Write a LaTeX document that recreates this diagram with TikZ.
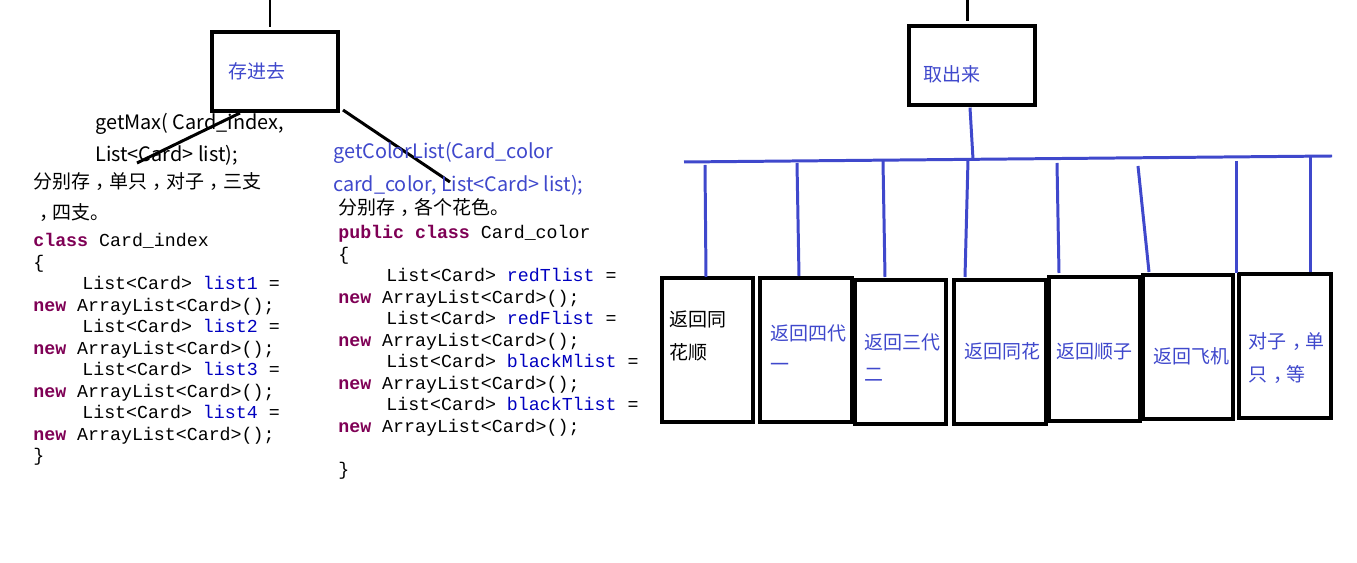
\documentclass[tikz,border=0pt]{standalone}
\usepackage{fontspec}
\newfontfamily\cjk{Noto Sans CJK SC}
\newfontfamily\codefont{Liberation Mono}
\newcommand\zc{\hspace*{0.3em}，\hspace*{-0.3em}}
\definecolor{pblue}{HTML}{3F48CC}
\definecolor{kw}{HTML}{7F0055}
\definecolor{idf}{HTML}{0000C0}
\begin{document}
\begin{tikzpicture}[x=0.02cm,y=-0.02cm,
  box/.style={draw=black,line width=1.8pt,inner sep=0pt},
  txt/.style={anchor=base west,inner sep=0pt,font=\cjk\fontsize{10.8}{13}\selectfont},
  btxt/.style={txt,text=pblue},
  ltxt/.style={anchor=base west,inner sep=0pt,font=\cjk\fontsize{11.3}{13}\selectfont},
  code/.style={anchor=base west,inner sep=0pt,font=\codefont\fontsize{10.4}{12}\selectfont},
  bline/.style={draw=black,line width=1.7pt},
  pline/.style={draw=pblue,line width=1.7pt}]
\useasboundingbox (0,0) rectangle (1357,563);
\fill[white] (0,0) rectangle (1357,563);

% ---- left part ----
\node[box,minimum width=2.52cm,minimum height=1.58cm] (save) at (275,71.5) {};
\node[btxt] (savet) at (228,79) {存进去};
\coordinate (t1a) at (270,0);
\coordinate (t1b) at (270,27);
\draw[bline] (t1a) -- (t1b);
\coordinate (d1a) at (240,113);
\coordinate (d1b) at (137,163);
\draw[bline] (d1a) -- (d1b);
\coordinate (d2a) at (343,110);
\coordinate (d2b) at (450,182);
\draw[bline] (d2a) -- (d2b);

\node[ltxt] (gm1) at (95,130) {getMax( Card\_index,};
\node[ltxt] (gm2) at (95,162) {List<Card> list);};
\node[txt] (gm3) at (33,189) {分别存\zc 单只\zc 对子\zc 三支};
\node[txt] (gm4) at (33,220) {\zc 四支。};

\node[code] (a1) at (33,247) {\textcolor{kw}{\bfseries class} Card\_index};
\node[code] (a2) at (33,268.5) {\{};
\node[code] (a3) at (82,290) {List<Card> \textcolor{idf}{list1} =};
\node[code] (a4) at (33,311.5) {\textcolor{kw}{\bfseries new} ArrayList<Card>();};
\node[code] (a5) at (82,333) {List<Card> \textcolor{idf}{list2} =};
\node[code] (a6) at (33,354.5) {\textcolor{kw}{\bfseries new} ArrayList<Card>();};
\node[code] (a7) at (82,376) {List<Card> \textcolor{idf}{list3} =};
\node[code] (a8) at (33,397.5) {\textcolor{kw}{\bfseries new} ArrayList<Card>();};
\node[code] (a9) at (82,419) {List<Card> \textcolor{idf}{list4} =};
\node[code] (a10) at (33,440.5) {\textcolor{kw}{\bfseries new} ArrayList<Card>();};
\node[code] (a11) at (33,462) {\}};

% ---- middle part ----
\node[ltxt,text=pblue] (gc1) at (333,159) {getColorList(Card\_color};
\node[ltxt,text=pblue] (gc2) at (333,192) {card\_color, List<Card> list);};
\node[txt] (gc3) at (338,215) {分别存\zc 各个花色。};

\node[code] (m1) at (338,239) {\textcolor{kw}{\bfseries public class} Card\_color};
\node[code] (m2) at (338,260.5) {\{};
\node[code] (m3) at (386,282) {List<Card> \textcolor{idf}{redTlist} =};
\node[code] (m4) at (338,303.5) {\textcolor{kw}{\bfseries new} ArrayList<Card>();};
\node[code] (m5) at (386,325) {List<Card> \textcolor{idf}{redFlist} =};
\node[code] (m6) at (338,346.5) {\textcolor{kw}{\bfseries new} ArrayList<Card>();};
\node[code] (m7) at (386,368) {List<Card> \textcolor{idf}{blackMlist} =};
\node[code] (m8) at (338,389.5) {\textcolor{kw}{\bfseries new} ArrayList<Card>();};
\node[code] (m9) at (386,411) {List<Card> \textcolor{idf}{blackTlist} =};
\node[code] (m10) at (338,432.5) {\textcolor{kw}{\bfseries new} ArrayList<Card>();};
\node[code] (m11) at (338,475.5) {\}};

% ---- right part ----
\node[box,minimum width=2.52cm,minimum height=1.58cm] (take) at (972,65.5) {};
\node[btxt] (taket) at (923,82) {取出来};
\coordinate (t2a) at (967,0);
\coordinate (t2b) at (967,21);
\draw[bline] (t2a) -- (t2b);

\coordinate (busL) at (684,162);
\coordinate (busR) at (1332,156);
\coordinate (busM) at (973,159);
\draw[pline] (busL) -- (busR);
\draw[pline] (take.south) ++(-2,1) -- (busM);

\node[box,minimum width=1.82cm,minimum height=2.88cm] (b1) at (707.5,350) {};
\node[box,minimum width=1.84cm,minimum height=2.88cm] (b2) at (806,350) {};
\node[box,minimum width=1.82cm,minimum height=2.88cm] (b3) at (900.5,352) {};
\node[box,minimum width=1.84cm,minimum height=2.88cm] (b4) at (1000,352) {};
\node[box,minimum width=1.82cm,minimum height=2.88cm] (b5) at (1094.5,349) {};
\node[box,minimum width=1.80cm,minimum height=2.88cm] (b6) at (1188,347) {};
\node[box,minimum width=1.84cm,minimum height=2.88cm] (b7) at (1285,346) {};

\coordinate (v1) at (705,165);
\coordinate (v2) at (797,163);
\coordinate (v3) at (883,161);
\coordinate (v4) at (968,160);
\coordinate (v5) at (1057,163);
\coordinate (v6) at (1138,166);
\coordinate (v7) at (1236,161);
\coordinate (v8) at (1310,157);
\coordinate (w1) at (706,277);
\coordinate (w2) at (799,276);
\coordinate (w3) at (885,277);
\coordinate (w4) at (965,277);
\coordinate (w5) at (1059,273);
\coordinate (w6) at (1149,272);
\coordinate (w7) at (1236,273);
\coordinate (w8) at (1310,272);
\foreach \i in {1,...,8} {\draw[pline] (v\i) -- (w\i);}

\node[txt] (l1a) at (669,327) {返回同};
\node[txt] (l1b) at (669,360) {花顺};
\node[btxt] (l2a) at (770,341) {返回四代};
\node[btxt] (l2b) at (770,372) {一};
\node[btxt] (l3a) at (864,350) {返回三代};
\node[btxt] (l3b) at (864,382) {二};
\node[btxt] (l4) at (964,359) {返回同花};
\node[btxt] (l5) at (1056,359) {返回顺子};
\node[btxt] (l6) at (1153,364) {返回飞机};
\node[btxt] (l7a) at (1248,349) {对子\zc 单};
\node[btxt] (l7b) at (1248,382) {只\zc 等};
\end{tikzpicture}
\end{document}
